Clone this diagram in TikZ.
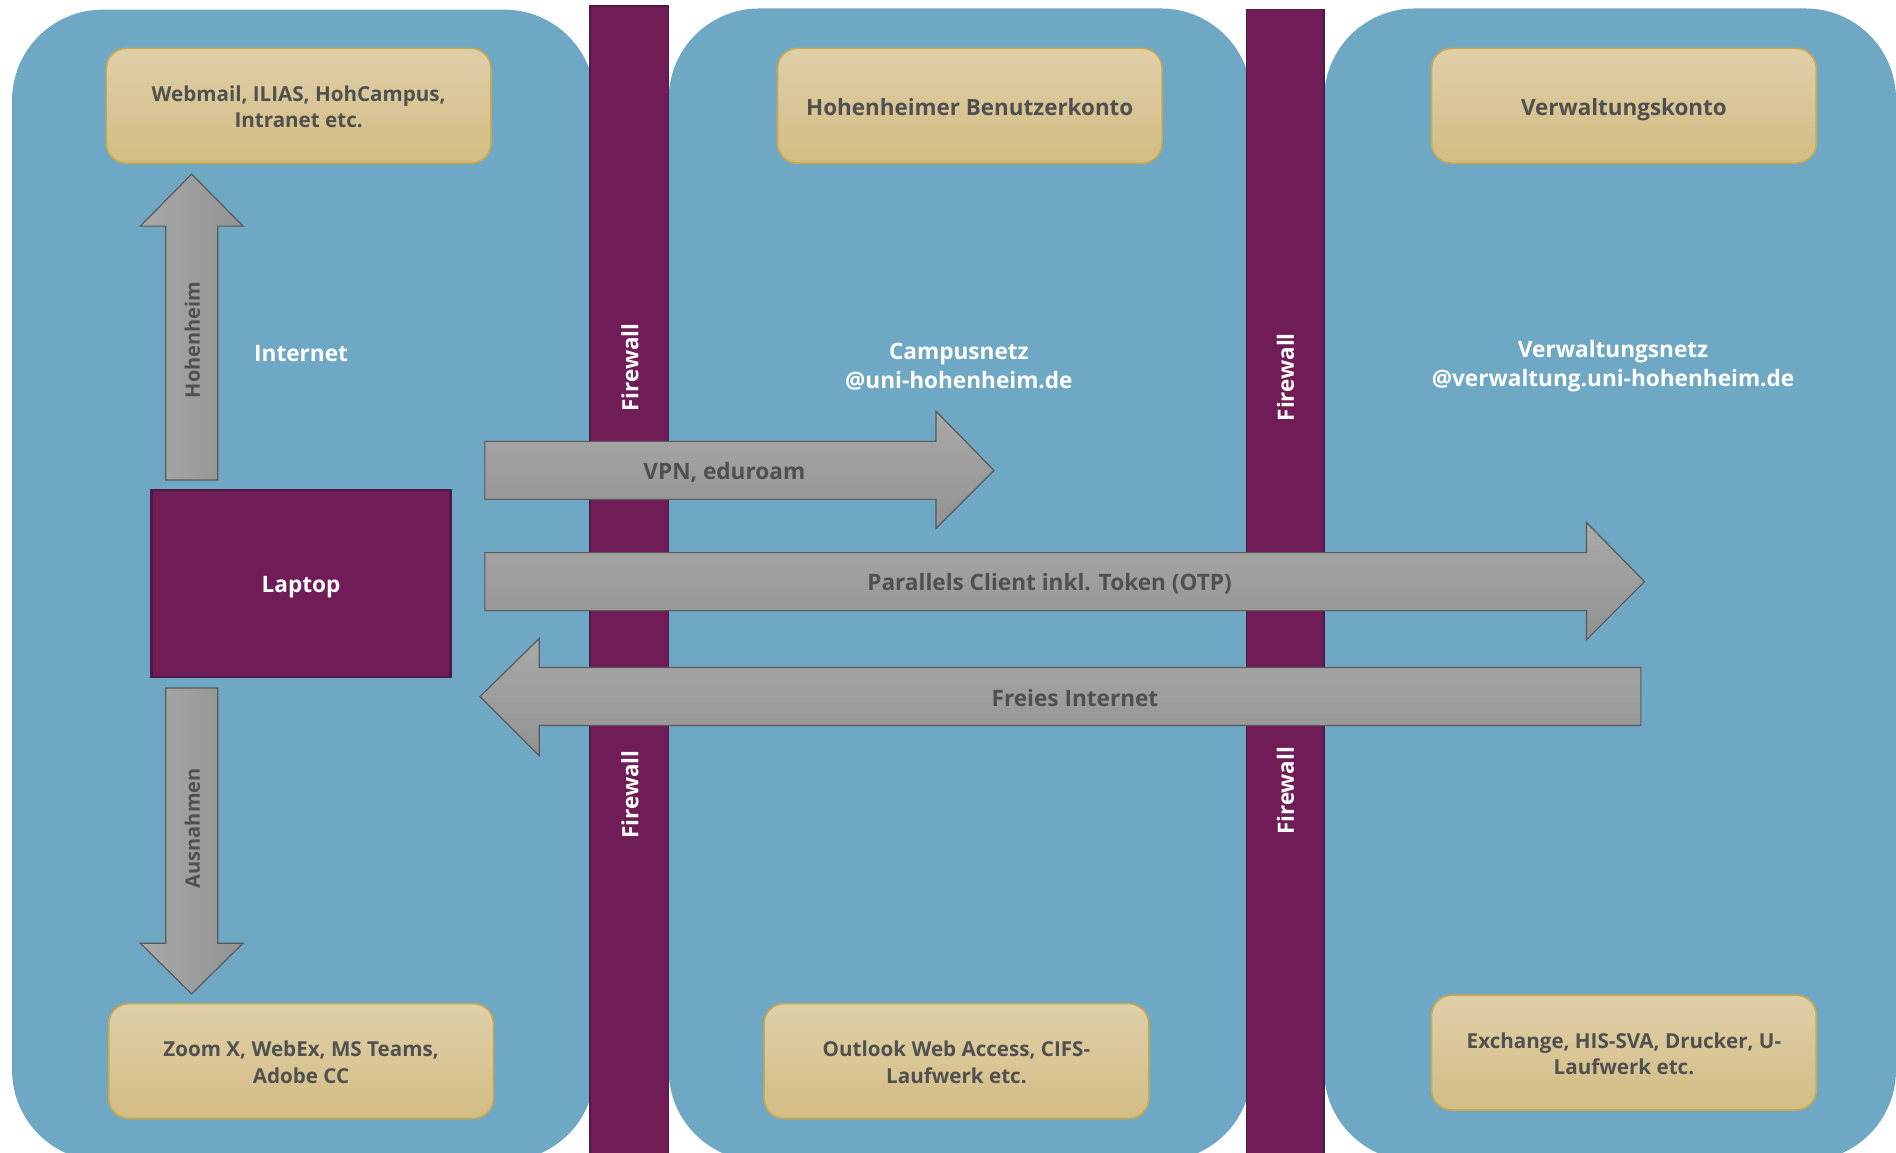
\documentclass[tikz,border=0pt]{standalone}
\usepackage{fontspec}
\setmainfont{Open Sans}
\usetikzlibrary{shadings}
\definecolor{panelblue}{HTML}{6EA8C4}
\definecolor{fwpurple}{HTML}{701C56}
\definecolor{fwedge}{HTML}{4F1A4A}
\definecolor{goldtop}{HTML}{DFCFA8}
\definecolor{goldbot}{HTML}{D3BC84}
\definecolor{goldedge}{HTML}{C9A94F}
\definecolor{graylight}{HTML}{A9A9A9}
\definecolor{graydark}{HTML}{929292}
\definecolor{grayedge}{HTML}{5A5A5A}
\definecolor{txtgray}{HTML}{505050}
\newcommand{\firstln}{\rule{0pt}{9pt}}
\tikzset{
  panel/.style={fill=panelblue,draw=none,rounded corners=45.3pt},
  firewallbar/.style={fill=fwpurple,draw=fwedge,line width=0.8pt},
  goldbox/.style={rectangle,rounded corners=10pt,top color=goldtop,bottom color=goldbot,draw=goldedge,line width=0.8pt,
    minimum width=192.3pt,minimum height=57.4pt,inner sep=0pt,align=center,text=txtgray,font=\fontsize{10.3}{13.3}\selectfont\bfseries},
  goldbig/.style={goldbox,text height=11.4pt,text depth=1.9pt,font=\fontsize{11.2}{14}\selectfont\bfseries},
  vshaft/.style={draw=grayedge,line width=0.6pt,left color=graylight,right color=graydark},
  hshaft/.style={draw=grayedge,line width=0.6pt,top color=graylight,bottom color=graydark},
  whitelabel/.style={text=white,align=center,inner sep=0pt,font=\fontsize{11.3}{14.5}\selectfont\bfseries},
  graylabel/.style={text=txtgray,align=center,inner sep=0pt,font=\fontsize{11.3}{14.5}\selectfont\bfseries},
  fwlabel/.style={text=white,rotate=90,inner sep=0pt,font=\fontsize{11.2}{13}\selectfont\bfseries},
  vlabel/.style={text=txtgray,rotate=90,inner sep=0pt,font=\fontsize{10}{13}\selectfont\bfseries},
}
\begin{document}
\begin{tikzpicture}[x=0.6046pt,y=-0.6046pt]
\useasboundingbox (0,0) rectangle (1568,953.5);
% network zones
\path[panel] (10,8) rectangle (492,960);
\path[panel] (553,7) rectangle (1035,960);
\path[panel] (1095,7) rectangle (1568,960);
\path[fill=white] (0,953.5) rectangle (1568,965);
% firewalls
\path[firewallbar] (488,5) rectangle (553,956);
\path[firewallbar] (1031,8) rectangle (1095,956);
\node[fwlabel] (fw1) at (521,304) {Firewall};
\node[fwlabel] (fw2) at (1063,312) {Firewall};
\node[fwlabel] (fw3) at (521,657) {Firewall};
\node[fwlabel] (fw4) at (1063,654) {Firewall};
% service boxes
\node[goldbox] (webmail) at (247,87.5) {\firstln Webmail, ILIAS, HohCampus,\\Intranet etc.};
\node[goldbig] (konto) at (802,87.5) {Hohenheimer Benutzerkonto};
\node[goldbig] (vkonto) at (1343,87.5) {Verwaltungskonto};
\node[goldbox] (zoom) at (249,877.5) {\firstln Zoom X, WebEx, MS Teams,\\Adobe CC};
\node[goldbox] (outlook) at (791,877.5) {\firstln Outlook Web Access, CIFS-\\Laufwerk etc.};
\node[goldbox] (exchange) at (1343,870.5) {\firstln Exchange, HIS-SVA, Drucker, U-\\Laufwerk etc.};
% laptop
\node[rectangle,fill=fwpurple,draw=fwedge,line width=1.2pt,minimum width=149.6pt,minimum height=93.4pt,inner sep=0pt,text=white,text height=11.4pt,text depth=1.9pt,font=\fontsize{11.3}{14}\selectfont\bfseries] (laptop) at (249,482.5) {Laptop};
% network names
\node[whitelabel] (internet) at (249,292) {Internet};
\node[whitelabel] (campus) at (793,303) {Campusnetz\\@uni-hohenheim.de};
\node[whitelabel] (verw) at (1334,303) {Verwaltungsnetz\\@verwaltung.uni-hohenheim.de};
% block arrows
\path[vshaft] (158.5,144) -- (201,187) -- (180,187) -- (180,397) -- (137,397) -- (137,187) -- (116,187) -- cycle;
\path[vshaft] (158.5,822) -- (201,780) -- (180,780) -- (180,569) -- (137,569) -- (137,780) -- (116,780) -- cycle;
\path[hshaft] (822,389) -- (774,340) -- (774,365) -- (401,365) -- (401,413) -- (774,413) -- (774,437) -- cycle;
\path[hshaft] (1360,481) -- (1312,432) -- (1312,457) -- (401,457) -- (401,505) -- (1312,505) -- (1312,529) -- cycle;
\path[hshaft] (397,576) -- (446,528) -- (446,552) -- (1357,552) -- (1357,600) -- (446,600) -- (446,625) -- cycle;
\node[vlabel] (hoh) at (159,281) {Hohenheim};
\node[vlabel] (aus) at (159,685) {Ausnahmen};
\node[graylabel] (vpn) at (599,391) {VPN, eduroam};
\node[graylabel] (par) at (868,482.5) {Parallels Client inkl. Token (OTP)};
\node[graylabel] (frei) at (889,577) {Freies Internet};
\end{tikzpicture}
\end{document}
